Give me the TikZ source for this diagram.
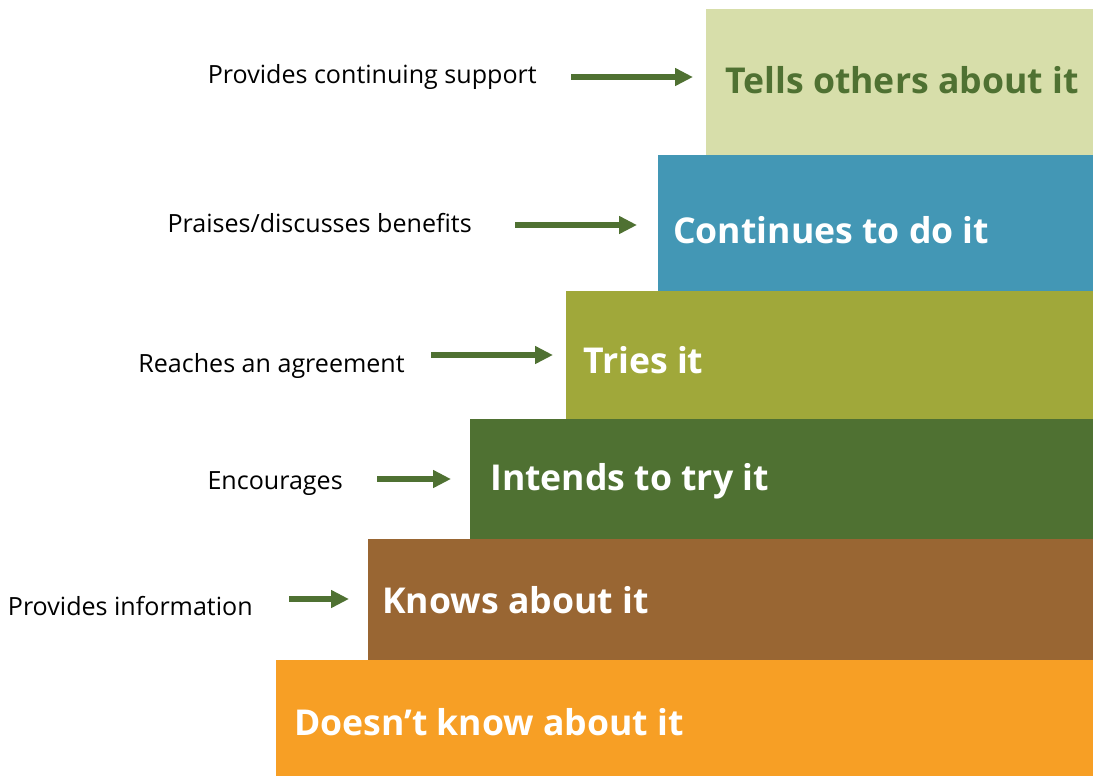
\documentclass[tikz,border=0pt]{standalone}
\usepackage{fontspec}
\setmainfont{Open Sans}
\usetikzlibrary{arrows.meta}
\definecolor{cTells}{HTML}{D7DEAA}
\definecolor{cCont}{HTML}{4397B5}
\definecolor{cTries}{HTML}{A0A83A}
\definecolor{cIntends}{HTML}{4F7132}
\definecolor{cKnows}{HTML}{996633}
\definecolor{cDoesnt}{HTML}{F79F25}
\definecolor{arrowgreen}{HTML}{4F7132}
\tikzset{
  steptext/.style={anchor=west, text=white, font=\fontsize{26.7}{30}\selectfont\bfseries, inner sep=0pt},
  lbl/.style={anchor=east, font=\fontsize{18.8}{22}\selectfont, inner sep=0pt},
  garrow/.style={draw=arrowgreen, line width=4.5pt, -{Triangle[length=13.5pt,width=12.75pt]}},
}
\begin{document}
\begin{tikzpicture}[x=0.75pt,y=-0.75pt]
\useasboundingbox (0,0) rectangle (1093,776);
% steps
\fill[cTells] (706,9) rectangle (1093,155);
\fill[cCont] (658,155) rectangle (1093,291);
\fill[cTries] (566,291) rectangle (1093,419);
\fill[cIntends] (470,419) rectangle (1093,539);
\fill[cKnows] (368,539) rectangle (1093,660);
\fill[cDoesnt] (276,660) rectangle (1093,776);
% step texts
\node[steptext, text=cIntends, anchor=center] (s6) at (902,80) {Tells others about it};
\node[steptext] (s5) at (673,230) {Continues to do it};
\node[steptext] (s4) at (583,360) {Tries it};
\node[steptext] (s3) at (490,481) {Intends to try it};
\node[steptext] (s2) at (382,600) {Knows about it};
\node[steptext] (s1) at (294,722) {Doesn’t know about it};
% labels
\node[lbl] (l5) at (537,77) {Provides continuing support};
\node[lbl] (l4) at (472,223) {Praises/discusses benefits};
\node[lbl] (l3) at (405,366) {Reaches an agreement};
\node[lbl] (l2) at (343,484) {Encourages};
\node[lbl] (l1) at (253,606) {Provides information};
% arrow endpoints
\coordinate (a5s) at (571,77); \coordinate (a5e) at (693,77);
\coordinate (a4s) at (515,225); \coordinate (a4e) at (637,225);
\coordinate (a3s) at (431,355); \coordinate (a3e) at (553,355);
\coordinate (a2s) at (377,479); \coordinate (a2e) at (451,479);
\coordinate (a1s) at (289,599); \coordinate (a1e) at (349,599);
\draw[garrow] (a5s) -- (a5e);
\draw[garrow] (a4s) -- (a4e);
\draw[garrow] (a3s) -- (a3e);
\draw[garrow] (a2s) -- (a2e);
\draw[garrow] (a1s) -- (a1e);
\end{tikzpicture}
\end{document}
